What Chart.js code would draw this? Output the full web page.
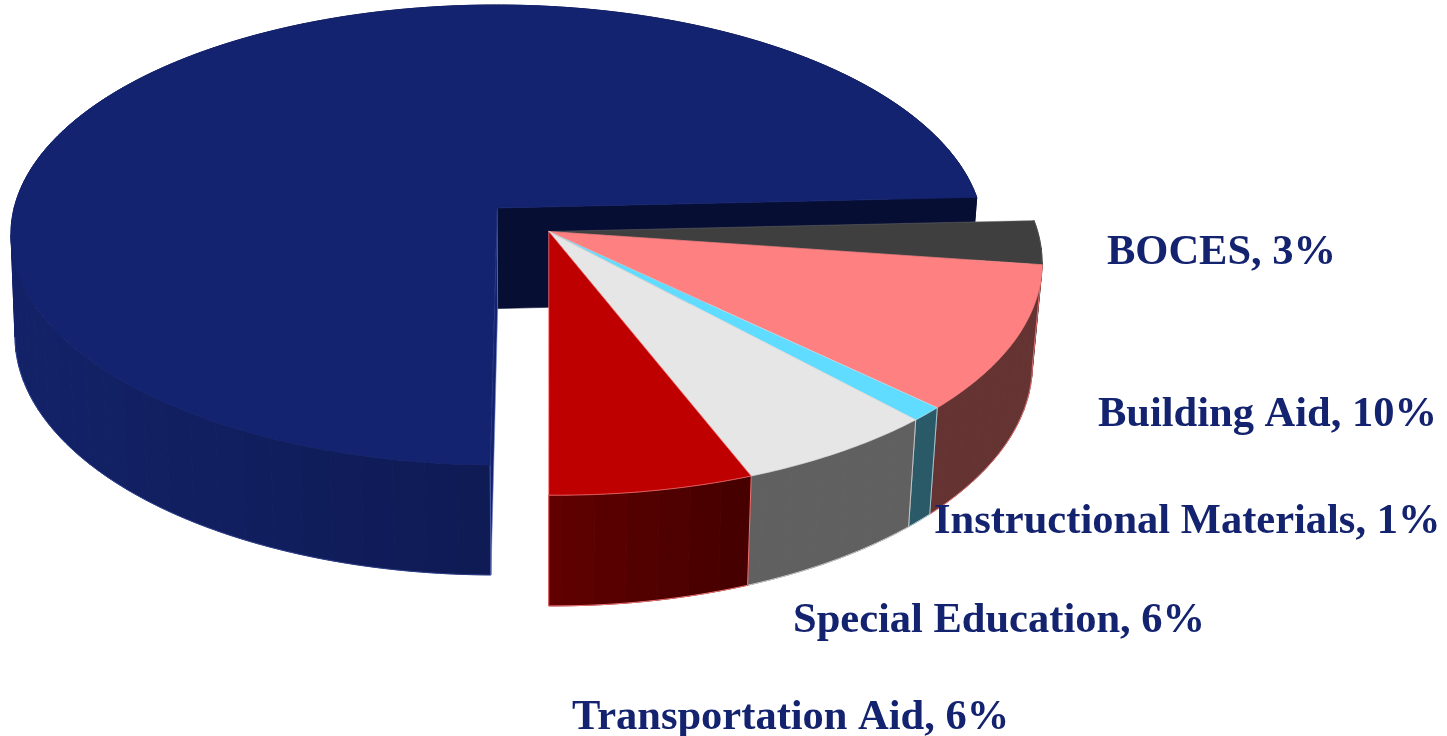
<!DOCTYPE html>
<html>
<head>
<meta charset="utf-8">
<style>
html,body{margin:0;padding:0;background:#fff;overflow:hidden}
canvas{display:block}
</style>
<script src="https://cdn.jsdelivr.net/npm/chart.js@4/dist/chart.umd.min.js"></script>
</head>
<body>
<canvas id="pie" width="1447" height="736"></canvas>
<script>
// Aid categories, clockwise from the bottom of the pie
const categories = ['', 'BOCES', 'Building Aid', 'Instructional Materials', 'Special Education', 'Transportation Aid'];
const shares = [74, 3, 10, 1, 6, 6];
const pulledOut = [false, true, true, true, true, true];

const topColors = ['#14236f', '#3f3f3f', '#ff8080', '#5fdcff', '#e6e6e6', '#bf0000'];
const wallFrom = [[19, 34, 104], [44, 44, 44], [102, 51, 51], [42, 90, 104], [96, 96, 96], [98, 0, 0]];
const wallTo = [[10, 19, 66], [44, 44, 44], [102, 51, 51], [42, 90, 104], [96, 96, 96], [71, 0, 0]];
const edgeColors = ['rgba(70,90,180,.5)', 'rgba(120,120,120,.5)', 'rgba(255,128,128,.8)', 'rgba(200,225,235,.8)', 'rgba(215,215,215,.85)', 'rgba(255,128,128,.9)'];
const labelAnchors = [null, [1107, 264], [1098, 426], [934, 533], [793, 632], [572, 729]];

// Perspective camera: u/v are plane coordinates in pie radii, z runs down the thickness
const cam = {vanishX: 549, shiftX: -52, radius: 483, originY: 208, depthY: 226.8, tilt: 3.5, height: 101.9,
             persp: 0.1174, skew: -0.002, zPersp: 0.0132, zSkew: 0.44};
const explode = 0.147;
const stepsPerBand = 5;

function project(u, v, z) {
  const w = 1 - cam.persp * v + cam.skew * u + cam.zPersp * z * (1 + cam.zSkew * u);
  return [
    cam.vanishX + (cam.radius * u + cam.shiftX) / w,
    cam.originY + (cam.depthY * v + cam.tilt * u + cam.height * z) / w
  ];
}

function rimPoints(a0, a1, z, off) {
  const n = Math.max(2, Math.ceil(Math.abs(a1 - a0) / 0.012));
  const pts = [];
  for (let i = 0; i <= n; i++) {
    const a = a0 + (a1 - a0) * i / n;
    pts.push(project(off[0] + Math.cos(a), off[1] + Math.sin(a), z));
  }
  return pts;
}

function tracePath(ctx, pts, closed) {
  ctx.beginPath();
  pts.forEach((p, i) => i ? ctx.lineTo(p[0], p[1]) : ctx.moveTo(p[0], p[1]));
  if (closed) ctx.closePath();
}

function fillShape(ctx, pts, fill, edge, width) {
  tracePath(ctx, pts, true);
  ctx.fillStyle = fill;
  ctx.fill();
  ctx.strokeStyle = edge;
  ctx.lineWidth = width;
  ctx.stroke();
}

function strokeLine(ctx, pts, edge, width) {
  tracePath(ctx, pts, false);
  ctx.strokeStyle = edge;
  ctx.lineWidth = width;
  ctx.stroke();
}

// Outer wall built from bands, far ones first, each shaded by its horizontal position
function drawWall(ctx, top, bottom, from, to) {
  const xs = top.concat(bottom).map(p => p[0]);
  const minX = Math.min(...xs), maxX = Math.max(...xs);
  const starts = [];
  for (let i = 0; i < top.length - 1; i += stepsPerBand) starts.push(i);
  starts.sort((a, b) => top[a][1] - top[b][1]);
  starts.forEach(i => {
    const end = Math.min(i + stepsPerBand, top.length - 1);
    const t = maxX > minX ? (top[i][0] - minX) / (maxX - minX) : 0;
    const c = from.map((v, k) => Math.round(v + (to[k] - v) * t));
    const color = `rgb(${c[0]},${c[1]},${c[2]})`;
    const band = top.slice(i, end + 1).concat(bottom.slice(i, end + 1).reverse());
    fillShape(ctx, band, color, color, 1);
  });
}

const solidPie = {
  id: 'solidPie',
  beforeDatasetDraw(chart) {
    const ctx = chart.ctx;
    const arcs = chart.getDatasetMeta(0).data;
    ctx.save();
    ctx.lineJoin = 'round';

    // The detached group moves along the middle of its combined sweep
    const group = arcs.filter((_, i) => pulledOut[i]);
    const mid = (group[0].startAngle + group[group.length - 1].endAngle) / 2;
    const groupOff = [Math.cos(mid) * explode, Math.sin(mid) * explode];

    arcs.forEach((arc, i) => {
      const off = pulledOut[i] ? groupOff : [0, 0];
      const a0 = arc.startAngle, a1 = arc.endAngle;
      const apexTop = project(off[0], off[1], 0);
      const apexBottom = project(off[0], off[1], 1);
      const top = rimPoints(a0, a1, 0, off);
      const bottom = rimPoints(a0, a1, 1, off);

      drawWall(ctx, top, bottom, wallFrom[i], wallTo[i]);
      if (pulledOut[i]) {
        strokeLine(ctx, bottom, edgeColors[i], 1);
        strokeLine(ctx, [top[0], bottom[0]], edgeColors[i], 1);
        strokeLine(ctx, [top[top.length - 1], bottom[bottom.length - 1]], edgeColors[i], 1);
      } else {
        // Only the front stretch of the lower rim is in view
        const leftmost = bottom.reduce((best, p, k) => p[0] < bottom[best][0] ? k : best, 0);
        strokeLine(ctx, bottom.slice(0, leftmost + 1), edgeColors[i], 1);
        // Cut faces of the large slice, seen through the gap
        fillShape(ctx, [apexTop, top[top.length - 1], bottom[bottom.length - 1], apexBottom], '#060e33', '#060e33', 0.6);
        fillShape(ctx, [apexTop, top[0], bottom[0], apexBottom], '#13226c', 'rgba(120,140,215,.7)', 0.8);
      }
    });

    // Top faces go last so they cover the walls behind them
    arcs.forEach((arc, i) => {
      const off = pulledOut[i] ? groupOff : [0, 0];
      const pts = [project(off[0], off[1], 0)].concat(rimPoints(arc.startAngle, arc.endAngle, 0, off));
      fillShape(ctx, pts, topColors[i], pulledOut[i] ? edgeColors[i] : topColors[i], 0.8);
    });
    ctx.restore();
    return false;
  },
  afterDatasetsDraw(chart) {
    const ctx = chart.ctx;
    ctx.save();
    ctx.font = 'bold 42.5px "Liberation Serif"';
    ctx.fillStyle = '#14236f';
    ctx.textAlign = 'left';
    ctx.textBaseline = 'alphabetic';
    categories.forEach((name, i) => {
      if (name) ctx.fillText(`${name}, ${shares[i]}%`, labelAnchors[i][0], labelAnchors[i][1]);
    });
    ctx.restore();
  }
};

new Chart(document.getElementById('pie'), {
  type: 'pie',
  data: {labels: categories, datasets: [{data: shares, backgroundColor: topColors}]},
  options: {
    responsive: false,
    animation: false,
    rotation: 180,
    plugins: {legend: {display: false}, tooltip: {enabled: false}}
  },
  plugins: [solidPie]
});
</script>
</body>
</html>
